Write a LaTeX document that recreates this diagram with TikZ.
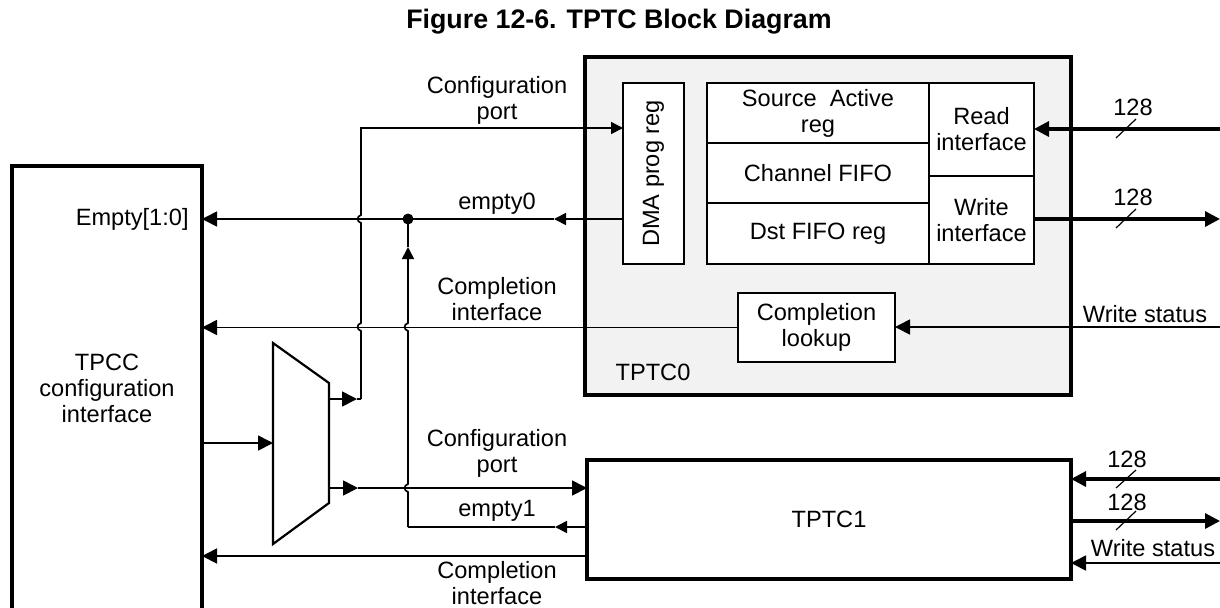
\documentclass[tikz,border=0pt]{standalone}
\usepackage{fontspec}
\setmainfont{Liberation Sans}
\usetikzlibrary{arrows.meta}
\begin{document}
\begin{tikzpicture}[x=0.5pt,y=-0.5pt,
  font=\fontsize{11.8pt}{13pt}\selectfont,
  ln/.style={line width=0.85pt},
  bus/.style={line width=1.6pt},
  slash/.style={line width=0.6pt},
  bigarr/.style={-{Triangle[length=7.5pt,width=7.5pt]}},
  smallarr/.style={-{Triangle[length=6pt,width=6pt]}},
  tbox/.style={draw, line width=1.6pt, inner sep=0pt, outer sep=0pt, align=center},
  ibox/.style={draw, line width=1.1pt, inner sep=0pt, outer sep=0pt, fill=white, align=center},
  lbl/.style={inner sep=0pt, align=center}]
\useasboundingbox (0,0) rectangle (1220,607);
\clip (0,0) rectangle (1220,607);

% title
\node[lbl, font=\bfseries\fontsize{13.4pt}{15pt}\selectfont] (title) at (619,22) {Figure 12-6. TPTC Block Diagram};

% TPCC
\node[tbox, minimum width=95pt, minimum height=237pt] (tpcc) at (107,403) {};
\node[lbl] (tpcct) at (107,388) {TPCC\\configuration\\interface};
\node[lbl, anchor=east] (emp) at (189,219) {Empty[1:0]};

% TPTC0
\node[tbox, fill=gray!10, minimum width=243pt, minimum height=169pt] (tptc0) at (828,226) {};
\node[lbl] (tptc0t) at (653,372) {TPTC0};
\node[ibox, minimum width=30.5pt, minimum height=90.5pt] (dma) at (653.5,173.5) {\rotatebox{90}{DMA prog reg}};
\node[ibox, minimum width=111pt, minimum height=30pt] (src) at (818,113) {Source\ \ Active\\reg};
\node[ibox, minimum width=111pt, minimum height=30pt] (chf) at (818,173) {Channel FIFO};
\node[ibox, minimum width=111pt, minimum height=30.5pt] (dst) at (818,233.5) {Dst FIFO reg};
\node[ibox, minimum width=52.5pt, minimum height=46.5pt] (rd) at (981.5,129.5) {Read\\interface};
\node[ibox, minimum width=52.5pt, minimum height=44pt] (wr) at (981.5,220) {Write\\interface};
\node[ibox, minimum width=78.5pt, minimum height=34.5pt] (cl) at (816.5,327.5) {Completion\\lookup};

% TPTC1
\node[tbox, fill=white, minimum width=242pt, minimum height=59.5pt] (tptc1) at (829,519.5) {TPTC1};

% mux
\coordinate (m1) at (273,343);
\coordinate (m2) at (329,383);
\coordinate (m3) at (329,503);
\coordinate (m4) at (273,544);
\draw[line width=1.1pt] (m1) -- (m2) -- (m3) -- (m4) -- cycle;
\coordinate (muxin) at (273,443);
\coordinate (muxo1) at (329,399);
\coordinate (muxo2) at (329,488);

% dot
\node[circle, fill, inner sep=0pt, minimum size=5.5pt] (dot) at (408,219) {};

% coordinates
\coordinate (a1) at (357,399);
\coordinate (v1b) at (361,399);
\coordinate (v1t) at (361,128);
\coordinate (e0a) at (554,219);
\coordinate (v2b) at (408,527);
\coordinate (up) at (408,247);
\coordinate (e1a) at (555,527);
\coordinate (a2) at (358,488);
\coordinate (c1y) at (0,556);
\coordinate (R1) at (1220,129);
\coordinate (R2) at (1220,219);
\coordinate (R3) at (1220,327);
\coordinate (R4) at (1220,479);
\coordinate (R5) at (1220,521);
\coordinate (R6) at (1220,563);

% mux input
\draw[ln, bigarr] (tpcc.east |- muxin) -- (muxin);

% configuration port 0
\draw[ln, bigarr] (muxo1) -- (a1);
\draw[ln] (a1) -- (v1b);
\draw[ln, smallarr] (v1b) -- (361,331) .. controls (356.5,329.5) and (356.5,324.5) .. (361,323)
  -- (361,223) .. controls (356.5,221.5) and (356.5,216.5) .. (361,215)
  -- (v1t) -- (dma.west |- v1t);

% empty0
\draw[ln, smallarr] (dma.west |- e0a) -- (e0a);
\draw[ln, bigarr] (e0a) -- (dot.center) -- (tpcc.east |- dot);

% vertical empty1 path
\draw[ln, smallarr] (v2b) -- (408,492) .. controls (403.5,490.5) and (403.5,485.5) .. (408,484)
  -- (408,331) .. controls (403.5,329.5) and (403.5,324.5) .. (408,323) -- (up);
\draw[ln] (up) -- (dot.center);

% empty1
\draw[ln, smallarr] (tptc1.west |- e1a) -- (e1a);
\draw[ln] (e1a) -- (v2b);

% configuration port 1
\draw[ln, bigarr] (muxo2) -- (a2);
\draw[ln, bigarr] (a2) -- (tptc1.west |- a2);

% completion interfaces
\draw[ln, bigarr] (cl.west) -- (tpcc.east |- cl.west);
\draw[ln, bigarr] (tptc1.west |- c1y) -- (tpcc.east |- c1y);

% right side TPTC0
\draw[bus, bigarr] (R1) -- (rd.east |- R1);
\draw[bus, bigarr] (wr.east |- R2) -- (R2);
\draw[ln, bigarr] (R3) -- (cl.east |- R3);
\draw[slash] (1116,138) -- (1136,119);
\draw[slash] (1116,228) -- (1136,209);
\node[lbl] (n128a) at (1133,107) {128};
\node[lbl] (n128b) at (1133,197) {128};
\node[lbl] (ws0) at (1145,314) {Write status};

% right side TPTC1
\draw[bus, bigarr] (R4) -- (tptc1.east |- R4);
\draw[bus, bigarr] (tptc1.east |- R5) -- (R5);
\draw[ln, bigarr] (R6) -- (tptc1.east |- R6);
\draw[slash] (1116,488) -- (1136,470);
\draw[slash] (1116,530) -- (1136,511);
\node[lbl] (n128c) at (1127,459) {128};
\node[lbl] (n128d) at (1127,502) {128};
\node[lbl] (ws1) at (1153,548) {Write status};

% left labels
\node[lbl] (cp0) at (497,100) {Configuration\\port};
\node[lbl] (e0t) at (497,204) {empty0};
\node[lbl] (ci0) at (497,299) {Completion\\interface};
\node[lbl] (cp1) at (497,453) {Configuration\\port};
\node[lbl] (e1t) at (497,511) {empty1};
\node[lbl] (ci1) at (497,583) {Completion\\interface};
\end{tikzpicture}
\end{document}
